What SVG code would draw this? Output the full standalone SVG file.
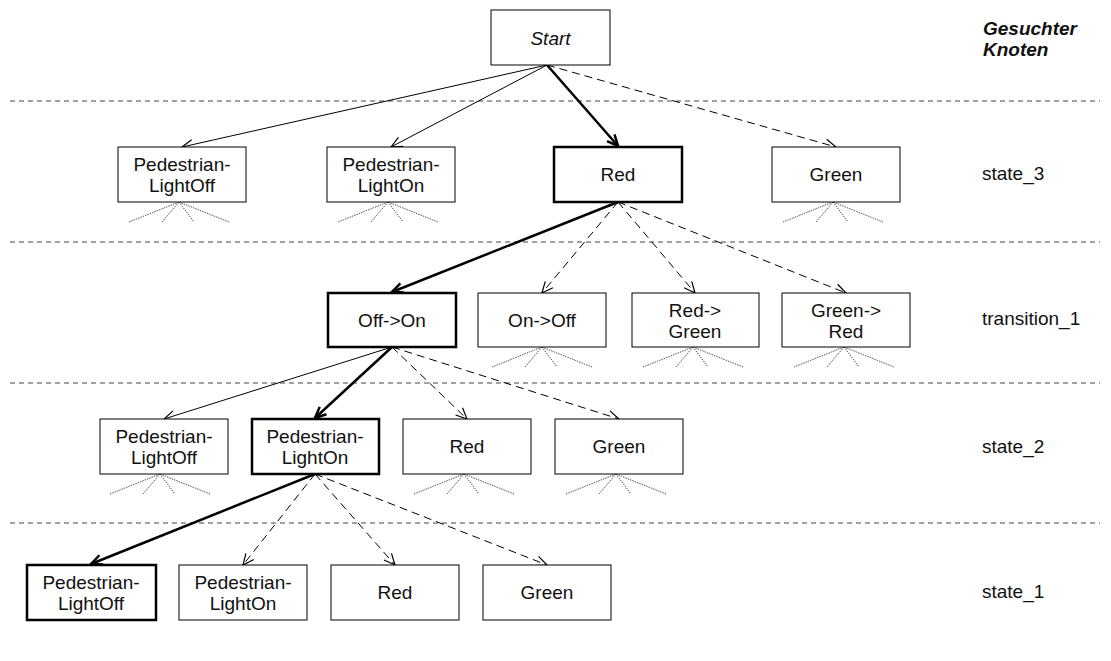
<svg xmlns="http://www.w3.org/2000/svg" width="1111" height="661" viewBox="0 0 1111 661">
  <style>
    .box { fill: #fff; stroke: #000; stroke-width: 1; }
    .box.sel { stroke-width: 2.5; }
    .lbl { font-family: "Liberation Sans", Arial, sans-serif; font-size: 19px; fill: #111; text-anchor: middle; }
    .side { font-family: "Liberation Sans", Arial, sans-serif; font-size: 19px; fill: #111; }
    .hdr { font-family: "Liberation Sans", Arial, sans-serif; font-size: 19px; font-weight: bold; font-style: italic; fill: #111; }
    .sep { stroke: #444; stroke-width: 1; stroke-dasharray: 5 4; fill: none; }
    .thin { stroke: #000; stroke-width: 1; fill: none; marker-end: url(#headThin); }
    .bold { stroke: #000; stroke-width: 2.5; fill: none; marker-end: url(#headBold); }
    .dash { stroke: #000; stroke-width: 1; stroke-dasharray: 8 5; fill: none; marker-end: url(#headThin); }
    .fan { stroke: #555; stroke-width: 1; stroke-dasharray: 1.5 1; fill: none; }
  </style>
  <defs>
    <marker id="headThin" markerUnits="userSpaceOnUse" markerWidth="14" markerHeight="12" refX="11" refY="5" orient="auto" overflow="visible">
      <path d="M0,0 L11,5 L0,10" fill="none" stroke="#000" stroke-width="1.2" stroke-dasharray="none"/>
    </marker>
    <marker id="headBold" markerUnits="userSpaceOnUse" markerWidth="14" markerHeight="12" refX="11" refY="5" orient="auto" overflow="visible">
      <path d="M0,0 L11,5 L0,10" fill="none" stroke="#000" stroke-width="2.5"/>
    </marker>
  </defs>

  <!-- level separators -->
  <g id="separators">
    <line class="sep" x1="10" y1="101" x2="1100" y2="101"/>
    <line class="sep" x1="10" y1="242" x2="1100" y2="242"/>
    <line class="sep" x1="10" y1="383" x2="1100" y2="383"/>
    <line class="sep" x1="10" y1="523" x2="1100" y2="523"/>
  </g>

  <!-- side labels -->
  <g id="side-labels">
    <text class="hdr" x="983" y="35">Gesuchter</text>
    <text class="hdr" x="983" y="56">Knoten</text>
    <text class="side" x="982" y="180">state_3</text>
    <text class="side" x="982" y="325">transition_1</text>
    <text class="side" x="982" y="453">state_2</text>
    <text class="side" x="982" y="598">state_1</text>
  </g>

  <!-- connectors -->
  <g id="connectors">
    <line class="thin" x1="547" y1="65" x2="182" y2="147"/>
    <line class="thin" x1="547" y1="65" x2="391" y2="147"/>
    <line class="bold" x1="547" y1="65" x2="618" y2="146"/>
    <line class="dash" x1="547" y1="65" x2="836" y2="147"/>

    <line class="bold" x1="618" y1="202" x2="392" y2="292"/>
    <line class="dash" x1="618" y1="202" x2="542" y2="293"/>
    <line class="dash" x1="618" y1="202" x2="695" y2="293"/>
    <line class="dash" x1="618" y1="202" x2="846" y2="293"/>

    <line class="thin" x1="392" y1="347" x2="164" y2="419"/>
    <line class="bold" x1="392" y1="347" x2="315" y2="418"/>
    <line class="dash" x1="392" y1="347" x2="467" y2="419"/>
    <line class="dash" x1="392" y1="347" x2="619" y2="419"/>

    <line class="bold" x1="315" y1="474" x2="91" y2="564"/>
    <line class="dash" x1="315" y1="474" x2="243" y2="565"/>
    <line class="dash" x1="315" y1="474" x2="395" y2="565"/>
    <line class="dash" x1="315" y1="474" x2="547" y2="565"/>

    <!-- unexpanded subtrees -->
    <path class="fan" d="M179,202 L129,222 M179,202 L162,222 M179,202 L194,222 M179,202 L229,222"/>
    <path class="fan" d="M388,202 L338,222 M388,202 L371,222 M388,202 L403,222 M388,202 L438,222"/>
    <path class="fan" d="M833,202 L783,222 M833,202 L816,222 M833,202 L848,222 M833,202 L883,222"/>

    <path class="fan" d="M542,347 L492,367 M542,347 L525,367 M542,347 L557,367 M542,347 L592,367"/>
    <path class="fan" d="M693,347 L643,367 M693,347 L676,367 M693,347 L708,367 M693,347 L743,367"/>
    <path class="fan" d="M844,347 L794,367 M844,347 L827,367 M844,347 L859,367 M844,347 L894,367"/>

    <path class="fan" d="M160,474 L110,494 M160,474 L143,494 M160,474 L175,494 M160,474 L210,494"/>
    <path class="fan" d="M464,474 L414,494 M464,474 L447,494 M464,474 L479,494 M464,474 L514,494"/>
    <path class="fan" d="M616,474 L566,494 M616,474 L599,494 M616,474 L631,494 M616,474 L666,494"/>
  </g>

  <!-- root -->
  <g id="start">
    <rect class="box" x="491" y="10" width="119" height="55"/>
    <text class="lbl" x="550.5" y="45" font-style="italic">Start</text>
  </g>

  <!-- state_3 -->
  <g id="s3-pedestrian-light-off">
    <rect class="box" x="118" y="147" width="128" height="55"/>
    <text class="lbl" x="182" y="171">Pedestrian-</text>
    <text class="lbl" x="182" y="192">LightOff</text>
  </g>
  <g id="s3-pedestrian-light-on">
    <rect class="box" x="327" y="147" width="128" height="55"/>
    <text class="lbl" x="391" y="171">Pedestrian-</text>
    <text class="lbl" x="391" y="192">LightOn</text>
  </g>
  <g id="s3-red">
    <rect class="box sel" x="554" y="147" width="128" height="55"/>
    <text class="lbl" x="618" y="181">Red</text>
  </g>
  <g id="s3-green">
    <rect class="box" x="772" y="147" width="128" height="55"/>
    <text class="lbl" x="836" y="181">Green</text>
  </g>

  <!-- transition_1 -->
  <g id="t1-off-on">
    <rect class="box sel" x="328" y="293" width="128" height="54"/>
    <text class="lbl" x="392" y="327">Off-&gt;On</text>
  </g>
  <g id="t1-on-off">
    <rect class="box" x="478" y="293" width="128" height="54"/>
    <text class="lbl" x="542" y="327">On-&gt;Off</text>
  </g>
  <g id="t1-red-green">
    <rect class="box" x="632" y="293" width="127" height="54"/>
    <text class="lbl" x="695" y="317">Red-&gt;</text>
    <text class="lbl" x="695" y="338">Green</text>
  </g>
  <g id="t1-green-red">
    <rect class="box" x="782" y="293" width="128" height="54"/>
    <text class="lbl" x="846" y="317">Green-&gt;</text>
    <text class="lbl" x="846" y="338">Red</text>
  </g>

  <!-- state_2 -->
  <g id="s2-pedestrian-light-off">
    <rect class="box" x="100" y="419" width="128" height="55"/>
    <text class="lbl" x="164" y="443">Pedestrian-</text>
    <text class="lbl" x="164" y="464">LightOff</text>
  </g>
  <g id="s2-pedestrian-light-on">
    <rect class="box sel" x="252" y="419" width="127" height="55"/>
    <text class="lbl" x="315" y="443">Pedestrian-</text>
    <text class="lbl" x="315" y="464">LightOn</text>
  </g>
  <g id="s2-red">
    <rect class="box" x="403" y="419" width="128" height="55"/>
    <text class="lbl" x="467" y="453">Red</text>
  </g>
  <g id="s2-green">
    <rect class="box" x="555" y="419" width="128" height="55"/>
    <text class="lbl" x="619" y="453">Green</text>
  </g>

  <!-- state_1 -->
  <g id="s1-pedestrian-light-off">
    <rect class="box sel" x="27" y="565" width="129" height="55"/>
    <text class="lbl" x="91" y="589">Pedestrian-</text>
    <text class="lbl" x="91" y="610">LightOff</text>
  </g>
  <g id="s1-pedestrian-light-on">
    <rect class="box" x="179" y="565" width="128" height="55"/>
    <text class="lbl" x="243" y="589">Pedestrian-</text>
    <text class="lbl" x="243" y="610">LightOn</text>
  </g>
  <g id="s1-red">
    <rect class="box" x="331" y="565" width="128" height="55"/>
    <text class="lbl" x="395" y="599">Red</text>
  </g>
  <g id="s1-green">
    <rect class="box" x="483" y="565" width="128" height="55"/>
    <text class="lbl" x="547" y="599">Green</text>
  </g>
</svg>
